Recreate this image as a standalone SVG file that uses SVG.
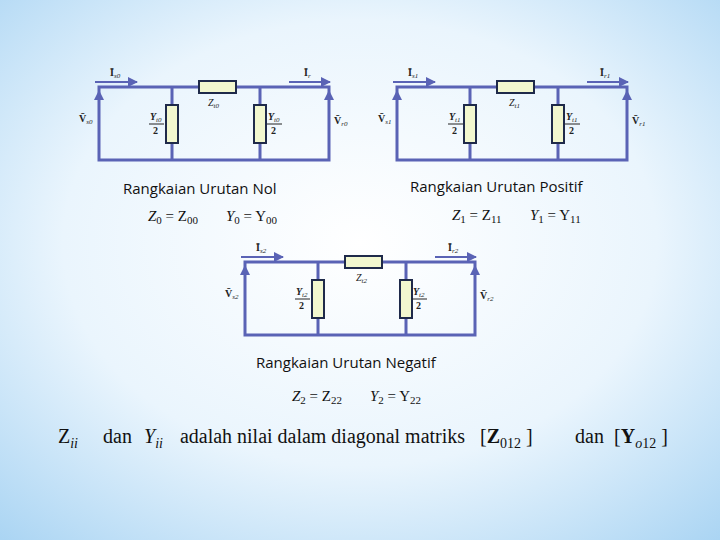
<svg xmlns="http://www.w3.org/2000/svg" width="720" height="540" viewBox="0 0 720 540">
<defs>
<radialGradient id="bg" cx="50%" cy="45%" r="75%">
<stop offset="0" stop-color="#ffffff"/><stop offset="0.55" stop-color="#eaf5fd"/><stop offset="1" stop-color="#a9d4f3"/>
</radialGradient>
<marker id="ah" viewBox="0 0 10 10" refX="9" refY="5" markerWidth="5" markerHeight="5" orient="auto"><path d="M0,0L10,5L0,10z" fill="#5a63b5"/></marker>
<style>
.w{stroke:#5a63b5;stroke-width:3;fill:none}
.a{stroke:#5a63b5;stroke-width:2;fill:none;marker-end:url(#ah)}
.b{fill:#f2f7cf;stroke:#1f2a4a;stroke-width:2}
.s{font-family:"Liberation Serif",serif;fill:#222;font-size:10px}
.sb{font-family:"Liberation Serif",serif;fill:#222;font-size:10px;font-weight:bold}
.u{font-size:7px;font-weight:normal;font-style:italic}
.t{font-family:"Open Sans","DejaVu Sans",sans-serif;font-size:15px;fill:#111}
.m{font-family:"Liberation Serif",serif;font-size:15px;fill:#111;font-style:italic}
.n{font-style:normal;font-size:11px}
</style>
<g id="ckt">
<g id="connectors">
<path class="w" d="M99,87H329V160H99Z"/>
<path class="w" d="M172,87V160M260,87V160"/>
<path class="a" d="M95,82H137"/><path class="a" d="M289,82H330"/>
<path class="a" d="M99,100V91"/><path class="a" d="M329,100V91"/>
</g>
<rect class="b" x="199" y="81" width="37" height="12"/>
<rect class="b" x="166" y="105" width="12" height="38"/>
<rect class="b" x="254" y="105" width="12" height="38"/>
</g>
</defs>
<rect width="720" height="540" fill="url(#bg)"/>
<g id="circuit0">
<use href="#ckt"/>
<text class="sb" x="110" y="76">Ī<tspan class="u" dy="2">s0</tspan></text>
<text class="sb" x="304" y="76">Ī<tspan class="u" dy="2">r</tspan></text>
<text class="s" x="208" y="106" font-style="italic">Z<tspan class="u" dy="2">t0</tspan></text>
<text class="sb" x="79" y="122">V̄<tspan class="u" dy="2">s0</tspan></text>
<text class="sb" x="334" y="124">V̄<tspan class="u" dy="2">r0</tspan></text>
<text class="sb" x="150" y="120" font-style="italic">Y<tspan class="u" dy="2">t0</tspan></text><path d="M149,124H164" stroke="#222"/><text class="sb" x="153" y="134">2</text>
<text class="sb" x="268" y="120" font-style="italic">Y<tspan class="u" dy="2">t0</tspan></text><path d="M267,124H282" stroke="#222"/><text class="sb" x="271" y="134">2</text>
<text class="t" x="123" y="194">Rangkaian Urutan Nol</text>
<text class="m" x="148" y="221">Z<tspan class="n" dy="3">0</tspan><tspan font-style="normal" dy="-3"> = Z</tspan><tspan class="n" dy="3">00</tspan></text>
<text class="m" x="226" y="221">Y<tspan class="n" dy="3">0</tspan><tspan font-style="normal" dy="-3"> = Y</tspan><tspan class="n" dy="3">00</tspan></text>
</g>
<g id="circuit1">
<use href="#ckt" x="298"/>
<text class="sb" x="408" y="76">Ī<tspan class="u" dy="2">s1</tspan></text>
<text class="sb" x="600" y="76">Ī<tspan class="u" dy="2">r1</tspan></text>
<text class="s" x="509" y="106" font-style="italic">Z<tspan class="u" dy="2">t1</tspan></text>
<text class="sb" x="378" y="122">V̄<tspan class="u" dy="2">s1</tspan></text>
<text class="sb" x="632" y="124">V̄<tspan class="u" dy="2">r1</tspan></text>
<text class="sb" x="449" y="120" font-style="italic">Y<tspan class="u" dy="2">t1</tspan></text><path d="M448,124H463" stroke="#222"/><text class="sb" x="452" y="134">2</text>
<text class="sb" x="566" y="120" font-style="italic">Y<tspan class="u" dy="2">t1</tspan></text><path d="M565,124H580" stroke="#222"/><text class="sb" x="569" y="134">2</text>
<text class="t" x="410" y="192">Rangkaian Urutan Positif</text>
<text class="m" x="452" y="220">Z<tspan class="n" dy="3">1</tspan><tspan font-style="normal" dy="-3"> = Z</tspan><tspan class="n" dy="3">11</tspan></text>
<text class="m" x="530" y="220">Y<tspan class="n" dy="3">1</tspan><tspan font-style="normal" dy="-3"> = Y</tspan><tspan class="n" dy="3">11</tspan></text>
</g>
<g id="circuit2">
<use href="#ckt" x="146" y="175"/>
<text class="sb" x="256" y="251">Ī<tspan class="u" dy="2">s2</tspan></text>
<text class="sb" x="448" y="251">Ī<tspan class="u" dy="2">r2</tspan></text>
<text class="s" x="356" y="281" font-style="italic">Z<tspan class="u" dy="2">t2</tspan></text>
<text class="sb" x="225" y="297">V̄<tspan class="u" dy="2">s2</tspan></text>
<text class="sb" x="480" y="299">V̄<tspan class="u" dy="2">r2</tspan></text>
<text class="sb" x="296" y="295" font-style="italic">Y<tspan class="u" dy="2">t2</tspan></text><path d="M295,299H310" stroke="#222"/><text class="sb" x="299" y="309">2</text>
<text class="sb" x="413" y="295" font-style="italic">Y<tspan class="u" dy="2">t2</tspan></text><path d="M412,299H427" stroke="#222"/><text class="sb" x="416" y="309">2</text>
<text class="t" x="256" y="368">Rangkaian Urutan Negatif</text>
<text class="m" x="292" y="401">Z<tspan class="n" dy="3">2</tspan><tspan font-style="normal" dy="-3"> = Z</tspan><tspan class="n" dy="3">22</tspan></text>
<text class="m" x="370" y="401">Y<tspan class="n" dy="3">2</tspan><tspan font-style="normal" dy="-3"> = Y</tspan><tspan class="n" dy="3">22</tspan></text>
</g>
<g id="footer" font-family="Liberation Serif,serif" font-size="20" fill="#111">
<text x="58" y="443">Z<tspan font-size="14" font-style="italic" dy="5">ii</tspan></text>
<text x="103" y="443">dan</text>
<text x="144" y="443" font-style="italic">Y<tspan font-size="14" dy="5">ii</tspan></text>
<text x="180" y="443" textLength="285" lengthAdjust="spacingAndGlyphs">adalah nilai dalam diagonal matriks</text>
<text x="480" y="443">[<tspan font-weight="bold">Z</tspan><tspan font-size="14" dy="5">012</tspan><tspan dy="-5"> ]</tspan></text>
<text x="575" y="443">dan</text>
<text x="614" y="443">[<tspan font-weight="bold">Y</tspan><tspan font-size="14" dy="5"><tspan font-style="italic">o</tspan>12</tspan><tspan dy="-5"> ]</tspan></text>
</g>
</svg>
